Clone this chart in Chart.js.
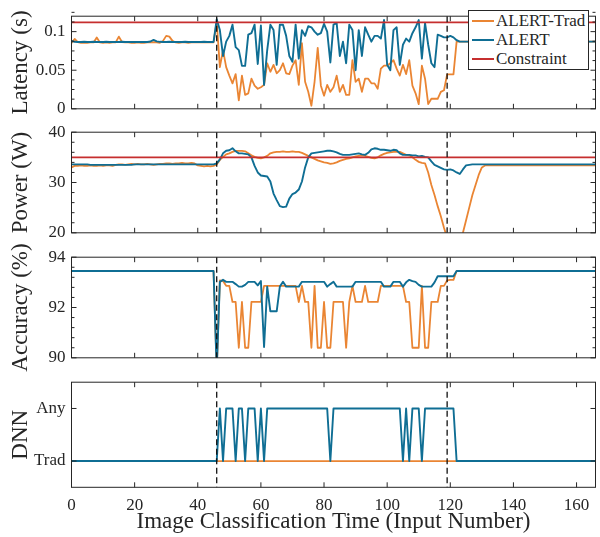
<!DOCTYPE html>
<html><head><meta charset="utf-8">
<script src="https://cdn.jsdelivr.net/npm/chart.js@4.4.1/dist/chart.umd.min.js"></script>
<style>
html,body{margin:0;padding:0;background:#fff;}
#wrap{position:relative;width:600px;height:537px;overflow:hidden;background:#fff;}
#wrap canvas{position:absolute;left:0;}
#legend{position:absolute;left:468px;top:10px;width:119px;height:58px;border:1px solid #262626;background:#fff;font-family:'Liberation Serif','DejaVu Serif',serif;font-size:17px;color:#262626;}
#legend .row{position:absolute;left:0;height:19px;line-height:19px;white-space:nowrap;}
#legend .sw{position:absolute;left:3px;top:9px;width:22px;height:0;border-top:2px solid;}
#legend .tx{position:absolute;left:27px;top:0;}
</style></head><body>
<div id="wrap">
<canvas id="c1" width="600" height="125" style="top:0px"></canvas>
<canvas id="c2" width="600" height="133" style="top:116px"></canvas>
<canvas id="c3" width="600" height="133" style="top:241px"></canvas>
<canvas id="c4" width="600" height="171" style="top:366px"></canvas>
<div id="legend"></div>
</div>
<script>
// ---------------- data ----------------
const inputNumbers = Array.from({length: 167}, (_, i) => i);
const seriesNames = ['ALERT-Trad', 'ALERT', 'Constraint'];
const switchPoints = [46, 119];
const xTickValues = [0, 20, 40, 60, 80, 100, 120, 140, 160];
const xTitle = 'Image Classification Time (Input Number)';

const latencyTickValues = [0, 0.05, 0.1];
const latencyTickLabels = ['0', '0.05', '0.1'];
const powerTickValues = [20, 30, 40];
const powerTickLabels = ['20', '30', '40'];
const accTickValues = [90, 92, 94];
const accTickLabels = ['90', '92', '94'];
const dnnTickValues = [0, 1];
const dnnTickLabels = ['Trad', 'Any'];

const latencyConstraint = 0.112;
const powerConstraint = 35;

const latencyTrad = [
0.0855,0.0905,0.0865,0.0855,0.0855,0.0855,0.0860,0.0860,0.0925,0.0860,
0.0855,0.0860,0.0855,0.0860,0.0860,0.0935,0.0865,0.0860,0.0860,0.0855,
0.0855,0.0860,0.0855,0.0855,0.0860,0.0860,0.0865,0.0860,0.0855,0.0880,
0.0945,0.0935,0.0880,0.0860,0.0855,0.0860,0.0860,0.0855,0.0860,0.0860,
0.0865,0.0860,0.0860,0.0860,0.0860,0.0860,0.1130,0.0540,0.0760,0.0540,
0.043,0.033,0.045,0.011,0.043,0.018,0.020,0.039,0.030,0.026,
0.028,0.031,0.059,0.048,0.057,0.046,0.050,0.059,0.046,0.045,
0.056,0.063,0.031,0.085,0.035,0.022,0.004,0.035,0.079,0.030,
0.017,0.031,0.022,0.028,0.043,0.022,0.031,0.018,0.018,0.063,
0.035,0.039,0.022,0.039,0.039,0.033,0.033,0.026,0.052,0.056,
0.056,0.059,0.063,0.052,0.043,0.057,0.045,0.063,0.030,0.020,
0.006,0.056,0.039,0.006,0.013,0.013,0.013,0.022,0.024,0.0445,
0.0445,0.0445,0.087,0.087,0.087,0.087,0.087,0.087,0.087,0.087,
0.087,0.087,0.087,0.087,0.087,0.087,0.087,0.087,0.087,0.087,
0.087,0.087,0.087,0.087,0.087,0.087,0.087,0.087,0.087,0.087,
0.087,0.087,0.087,0.087,0.087,0.087,0.087,0.087,0.087,0.087,
0.087,0.087,0.087,0.087,0.087,0.087,0.087
];
const latencyAlert = [
0.0878,0.0868,0.0866,0.0866,0.0868,0.0866,0.0866,0.0868,0.0866,0.0866,
0.0866,0.0868,0.0866,0.0866,0.0866,0.0866,0.0868,0.0866,0.0866,0.0866,
0.0866,0.0866,0.0866,0.0866,0.0866,0.0872,0.0893,0.0874,0.0868,0.0866,
0.0866,0.0868,0.0866,0.0866,0.0866,0.0866,0.0868,0.0866,0.0866,0.0866,
0.0866,0.0866,0.0868,0.0866,0.0866,0.0866,0.116,0.102,0.0685,0.087,
0.0945,0.109,0.080,0.076,0.0556,0.0556,0.096,0.098,0.109,0.058,
0.108,0.031,0.076,0.109,0.102,0.057,0.109,0.109,0.0945,0.0685,
0.061,0.109,0.065,0.102,0.0945,0.107,0.1056,0.100,0.096,0.098,
0.110,0.100,0.060,0.109,0.111,0.0685,0.087,0.059,0.109,0.102,
0.050,0.102,0.0685,0.1056,0.096,0.087,0.0945,0.0945,0.091,0.115,
0.057,0.050,0.102,0.1056,0.057,0.083,0.091,0.087,0.098,0.1056,
0.115,0.065,0.111,0.083,0.059,0.054,0.096,0.0945,0.0926,0.0926,
0.0945,0.0926,0.0889,0.087,0.087,0.087,0.087,0.087,0.087,0.087,
0.087,0.087,0.087,0.087,0.087,0.087,0.087,0.087,0.087,0.087,
0.087,0.087,0.087,0.087,0.087,0.087,0.087,0.087,0.087,0.087,
0.087,0.087,0.087,0.087,0.087,0.087,0.087,0.087,0.087,0.087,
0.087,0.087,0.087,0.087,0.087,0.087,0.087
];
const powerTrad = [
33.0,33.3,33.3,33.4,33.3,33.3,33.4,33.3,33.3,33.4,
33.3,33.4,33.4,33.3,33.5,33.6,33.6,33.5,33.6,33.7,
33.6,33.7,33.6,33.6,33.7,33.6,33.5,33.6,33.7,33.7,
33.8,33.8,33.7,33.8,33.8,33.9,33.8,33.8,33.9,33.8,
33.4,33.3,33.2,33.3,33.2,33.3,33.6,34.5,35.1,35.6,
35.8,36.1,36.3,36.3,36.3,36.2,35.8,35.4,35.1,34.9,
34.8,35.0,35.3,35.8,36.0,36.1,36.1,36.2,36.1,36.1,
36.2,36.1,36.1,35.9,35.6,35.3,35.0,34.7,34.4,34.2,
34.0,33.9,33.7,33.8,34.0,34.3,34.5,34.7,34.8,35.0,
35.2,35.3,35.4,35.3,35.1,34.9,34.8,35.0,35.4,35.7,
35.9,36.0,36.1,36.1,36.1,35.8,35.5,35.4,35.0,34.5,
34.1,33.9,33.8,32.0,29.5,27.5,25.3,23.3,21.0,19.0,
17.5,16.5,16.5,18.0,20.0,22.5,25.0,27.5,29.5,31.5,
33.0,33.4,33.4,33.4,33.4,33.4,33.4,33.4,33.4,33.4,
33.4,33.4,33.4,33.4,33.4,33.4,33.4,33.4,33.4,33.4,
33.4,33.4,33.4,33.4,33.4,33.4,33.4,33.4,33.4,33.4,
33.4,33.4,33.4,33.4,33.4,33.4,33.4
];
const powerAlert = [
33.6,33.6,33.6,33.6,33.6,33.6,33.5,33.5,33.5,33.5,
33.5,33.5,33.5,33.5,33.5,33.5,33.5,33.5,33.5,33.5,
33.6,33.6,33.6,33.6,33.6,33.6,33.6,33.6,33.6,33.6,
33.6,33.6,33.6,33.6,33.6,33.6,33.6,33.6,33.6,33.6,
33.6,33.6,33.6,33.6,33.6,33.6,33.8,34.6,35.8,36.3,
36.4,36.8,36.2,35.8,35.8,35.7,35.6,35.0,33.3,32.0,
31.4,31.3,31.2,30.2,27.8,26.5,25.3,25.1,25.2,26.8,
27.7,28.0,28.6,30.2,33.0,35.0,35.8,35.9,36.0,36.1,
36.2,36.3,36.3,36.2,36.0,35.7,35.5,35.5,35.5,35.6,
35.7,35.8,35.6,35.5,35.9,36.6,36.8,36.7,36.5,36.5,
36.4,36.3,36.5,36.4,35.8,35.5,35.5,35.5,35.4,35.4,
35.2,35.3,35.1,35.0,34.2,33.5,33.2,32.9,32.6,32.5,
32.6,32.4,32.0,31.7,32.6,33.4,33.5,33.6,33.6,33.6,
33.6,33.6,33.6,33.6,33.6,33.6,33.6,33.6,33.6,33.6,
33.6,33.6,33.6,33.6,33.6,33.6,33.6,33.6,33.6,33.6,
33.6,33.6,33.6,33.6,33.6,33.6,33.6,33.6,33.6,33.6,
33.6,33.6,33.6,33.6,33.6,33.6,33.6
];
const accuracyTrad = [
93.45,93.45,93.45,93.45,93.45,93.45,93.45,93.45,93.45,93.45,
93.45,93.45,93.45,93.45,93.45,93.45,93.45,93.45,93.45,93.45,
93.45,93.45,93.45,93.45,93.45,93.45,93.45,93.45,93.45,93.45,
93.45,93.45,93.45,93.45,93.45,93.45,93.45,93.45,93.45,93.45,
93.45,93.45,93.45,93.45,93.45,93.45,89.5,93.08,93.05,92.86,
92.86,92.22,92.22,90.4,92.22,90.4,90.4,92.22,92.22,92.22,
92.22,92.86,92.86,92.86,92.86,92.86,92.86,92.86,92.86,92.86,
92.86,92.86,92.22,92.86,92.22,92.22,90.4,92.86,90.4,90.4,
92.22,90.4,90.4,92.22,92.22,92.22,92.22,90.4,92.22,92.86,
92.22,92.22,92.22,92.86,92.22,92.22,92.22,92.22,92.86,92.86,
92.86,92.86,92.86,92.86,92.86,92.86,92.22,92.22,90.4,90.4,
90.4,92.86,90.4,90.4,92.22,92.22,92.22,92.86,92.86,93.08,
93.1,93.1,93.45,93.45,93.45,93.45,93.45,93.45,93.45,93.45,
93.45,93.45,93.45,93.45,93.45,93.45,93.45,93.45,93.45,93.45,
93.45,93.45,93.45,93.45,93.45,93.45,93.45,93.45,93.45,93.45,
93.45,93.45,93.45,93.45,93.45,93.45,93.45,93.45,93.45,93.45,
93.45,93.45,93.45,93.45,93.45,93.45,93.45
];
const accuracyAlert = [
93.45,93.45,93.45,93.45,93.45,93.45,93.45,93.45,93.45,93.45,
93.45,93.45,93.45,93.45,93.45,93.45,93.45,93.45,93.45,93.45,
93.45,93.45,93.45,93.45,93.45,93.45,93.45,93.45,93.45,93.45,
93.45,93.45,93.45,93.45,93.45,93.45,93.45,93.45,93.45,93.45,
93.45,93.45,93.45,93.45,93.45,93.45,89.5,93.02,93.10,93.02,
93.02,93.02,92.93,92.83,92.83,92.9,93.02,93.02,93.02,92.88,
93.05,90.43,92.83,91.85,91.85,91.85,92.83,93.02,92.83,92.83,
92.83,92.83,92.83,93.02,93.02,93.02,93.02,93.02,93.02,93.02,
93.02,92.83,92.93,93.02,92.83,92.83,92.83,92.83,92.83,92.83,
93.02,93.02,93.02,93.02,93.02,93.02,93.02,93.02,93.02,92.83,
92.83,92.83,93.02,93.02,93.02,92.83,93.0,93.1,93.05,93.02,
92.9,92.83,92.83,92.83,92.83,93.0,93.24,93.24,93.24,93.24,
93.24,93.24,93.45,93.45,93.45,93.45,93.45,93.45,93.45,93.45,
93.45,93.45,93.45,93.45,93.45,93.45,93.45,93.45,93.45,93.45,
93.45,93.45,93.45,93.45,93.45,93.45,93.45,93.45,93.45,93.45,
93.45,93.45,93.45,93.45,93.45,93.45,93.45,93.45,93.45,93.45,
93.45,93.45,93.45,93.45,93.45,93.45,93.45
];
const dnnTrad = [
0,0,0,0,0,0,0,0,0,0, 0,0,0,0,0,0,0,0,0,0, 0,0,0,0,0,0,0,0,0,0, 0,0,0,0,0,0,0,0,0,0,
0,0,0,0,0,0,0,0,0,0, 0,0,0,0,0,0,0,0,0,0, 0,0,0,0,0,0,0,0,0,0, 0,0,0,0,0,0,0,0,0,0,
0,0,0,0,0,0,0,0,0,0, 0,0,0,0,0,0,0,0,0,0, 0,0,0,0,0,0,0,0,0,0, 0,0,0,0,0,0,0,0,0,0,
0,0,0,0,0,0,0,0,0,0, 0,0,0,0,0,0,0,0,0,0, 0,0,0,0,0,0,0,0,0,0, 0,0,0,0,0,0,0,0,0,0,
0,0,0,0,0,0,0
];
const dnnAlert = [
0,0,0,0,0,0,0,0,0,0, 0,0,0,0,0,0,0,0,0,0, 0,0,0,0,0,0,0,0,0,0, 0,0,0,0,0,0,0,0,0,0,
0,0,0,0,0,0,0,1,0,1, 1,1,0,1,1,0,1,1,1,0, 1,0,1,1,1,1,1,1,1,1, 1,1,1,1,1,1,1,1,1,1,
1,1,0,1,1,1,1,1,1,1, 1,1,1,1,1,1,1,1,1,1, 1,1,1,1,1,0,1,0,1,1, 1,0,1,1,1,1,1,1,1,1,
1,1,0,0,0,0,0,0,0,0, 0,0,0,0,0,0,0,0,0,0, 0,0,0,0,0,0,0,0,0,0, 0,0,0,0,0,0,0,0,0,0,
0,0,0,0,0,0,0
];

// ---------------- style ----------------
const ORANGE = '#EA8533';
const BLUE = '#0F6E94';
const RED = '#C62F2F';
const INK = '#262626';
const FONT = "'Liberation Serif', 'DejaVu Serif', serif";
const tickFont = {family: FONT, size: 17};
const titleFont = {family: FONT, size: 23};

const xy = arr => arr.map((v, i) => ({x: inputNumbers[i], y: v}));
const hline = c => [{x: inputNumbers[0], y: c}, {x: inputNumbers[inputNumbers.length - 1], y: c}];

const matlabFrame = {
  id: 'matlabFrame',
  afterDatasetsDraw(chart, args, opts) {
    const {ctx, chartArea: a, scales} = chart;
    const xs = scales.x, ys = scales.y;
    ctx.save();
    ctx.strokeStyle = '#111';
    ctx.lineWidth = 1.3;
    ctx.setLineDash([6, 3.5]);
    switchPoints.forEach(v => {
      const px = xs.getPixelForValue(v);
      ctx.beginPath(); ctx.moveTo(px, a.top); ctx.lineTo(px, a.bottom); ctx.stroke();
    });
    ctx.setLineDash([]);
    ctx.strokeStyle = INK;
    ctx.lineWidth = 1;
    ctx.strokeRect(a.left, a.top, a.right - a.left, a.bottom - a.top);
    const seg = (x1, y1, x2, y2) => { ctx.beginPath(); ctx.moveTo(x1, y1); ctx.lineTo(x2, y2); ctx.stroke(); };
    xTickValues.forEach(v => {
      const px = xs.getPixelForValue(v);
      seg(px, a.bottom, px, a.bottom - 5);
      seg(px, a.top, px, a.top + 5);
    });
    (opts.major || []).forEach(v => {
      const py = ys.getPixelForValue(v);
      seg(a.left, py, a.left + 5, py);
      seg(a.right, py, a.right - 5, py);
    });
    if (opts.minorStep) {
      const n = Math.round((ys.max - ys.min) / opts.minorStep);
      for (let k = 0; k <= n; k++) {
        const v = ys.min + k * opts.minorStep;
        if ((opts.major || []).some(m => Math.abs(m - v) < 1e-9)) continue;
        const py = ys.getPixelForValue(v);
        seg(a.left, py, a.left + 3, py);
        seg(a.right, py, a.right - 3, py);
      }
    }
    ctx.restore();
  }
};

function makePanel(id, cfg) {
  return new Chart(document.getElementById(id), {
    type: 'line',
    data: {datasets: cfg.datasets},
    options: {
      responsive: false,
      animation: false,
      events: [],
      layout: {padding: {top: cfg.padTop, bottom: cfg.padBottom, left: 0, right: 4.5}},
      elements: {point: {radius: 0}, line: {tension: 0, borderJoinStyle: 'round', borderCapStyle: 'round'}},
      plugins: {
        legend: {display: false},
        tooltip: {enabled: false},
        matlabFrame: {major: cfg.yTicks, minorStep: cfg.minorStep}
      },
      scales: {
        x: {
          type: 'linear', min: 0, max: 166,
          display: cfg.showX,
          afterBuildTicks: s => { s.ticks = xTickValues.map(v => ({value: v})); },
          afterFit: s => { if (cfg.showX) s.height = 49.7; },
          grid: {display: false, drawTicks: false}, border: {display: false},
          ticks: {font: tickFont, color: INK, padding: 8, maxRotation: 0, autoSkip: false, callback: v => String(v)},
          title: {display: cfg.showX, text: xTitle, font: titleFont, color: INK, padding: {top: 0, bottom: 1}}
        },
        y: {
          type: 'linear', min: cfg.yMin, max: cfg.yMax,
          afterBuildTicks: s => { s.ticks = cfg.yTicks.map(v => ({value: v})); },
          afterFit: s => { s.width = 71.5; },
          grid: {display: false, drawTicks: false}, border: {display: false},
          ticks: {font: tickFont, color: INK, padding: 6, autoSkip: false,
                  callback: v => cfg.yLabels[cfg.yTicks.indexOf(v)]},
          title: {display: true, text: cfg.yTitle, font: titleFont, color: INK, padding: {top: 7, bottom: 0}}
        }
      }
    },
    plugins: [matlabFrame]
  });
}

const dsTrad = (arr) => ({label: seriesNames[0], data: xy(arr), borderColor: ORANGE, borderWidth: 1.8, order: 2});
const dsAlert = (arr) => ({label: seriesNames[1], data: xy(arr), borderColor: BLUE, borderWidth: 1.9, order: 1});
const dsCons = (c) => ({label: seriesNames[2], data: hline(c), borderColor: RED, borderWidth: 1.9, order: 0});

makePanel('c1', {
  datasets: [dsTrad(latencyTrad), dsAlert(latencyAlert), dsCons(latencyConstraint)],
  yMin: 0, yMax: 0.12, yTicks: latencyTickValues, yLabels: latencyTickLabels, minorStep: 0.0125,
  yTitle: 'Latency (s)', padTop: 3.3, padBottom: 13.3, showX: false
});
makePanel('c2', {
  datasets: [dsTrad(powerTrad), dsAlert(powerAlert), dsCons(powerConstraint)],
  yMin: 20, yMax: 40, yTicks: powerTickValues, yLabels: powerTickLabels, minorStep: 2,
  yTitle: 'Power (W)', padTop: 12.3, padBottom: 12.3, showX: false
});
makePanel('c3', {
  datasets: [dsTrad(accuracyTrad), dsAlert(accuracyAlert)],
  yMin: 90, yMax: 94, yTicks: accTickValues, yLabels: accTickLabels, minorStep: 0.4,
  yTitle: 'Accuracy (%)', padTop: 12.3, padBottom: 12.3, showX: false
});
makePanel('c4', {
  datasets: [dsTrad(dnnTrad), dsAlert(dnnAlert)],
  yMin: -0.5, yMax: 1.5, yTicks: dnnTickValues, yLabels: dnnTickLabels, minorStep: 0,
  yTitle: 'DNN', padTop: 12.3, padBottom: 0, showX: true
});

// legend (HTML text)
const legendColors = [ORANGE, BLUE, RED];
const legendTops = [0, 18.5, 38];
const legend = document.getElementById('legend');
seriesNames.forEach((name, i) => {
  const row = document.createElement('div');
  row.className = 'row';
  row.style.top = legendTops[i] + 'px';
  row.innerHTML = '<span class="sw" style="border-top-color:' + legendColors[i] + '"></span><span class="tx">' + name + '</span>';
  legend.appendChild(row);
});
</script>
</body></html>
